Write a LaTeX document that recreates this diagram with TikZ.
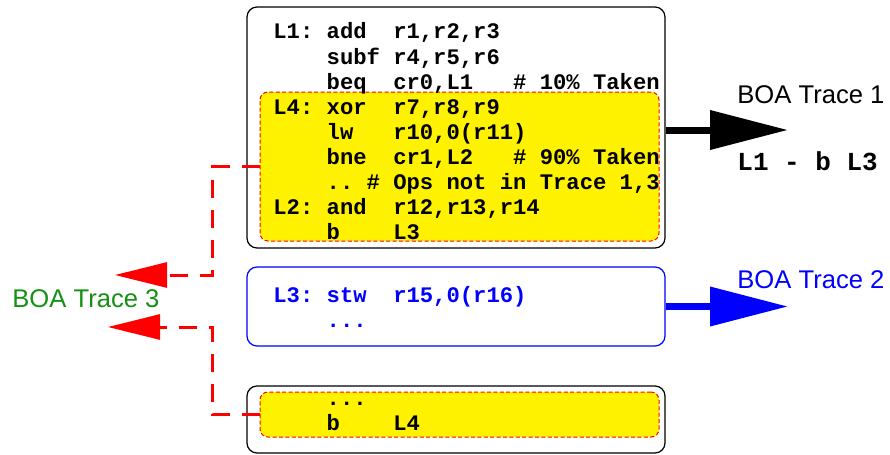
\documentclass[tikz,border=0pt]{standalone}
\usepackage{fontspec}
\usepackage{xcolor}
\usepackage{tikz}
\usetikzlibrary{arrows.meta}
\newfontfamily\codefont{Liberation Mono}
\newfontfamily\boafont{Liberation Sans}
\newcommand\codelines[1]{\begin{tabular}[t]{@{}l@{}}#1\end{tabular}}
\definecolor{trace three}{RGB}{20,145,20}
\colorlet{trace hot}{yellow}
\colorlet{trace edge}{red}
\tikzset{block/.style={draw, line width=0.6pt, rounded corners=5pt, fill=white,
        inner sep=0pt, minimum width=209pt},
    hot/.style={fill=trace hot, draw=trace edge, line width=0.5pt,
        dash pattern=on 2pt off 1.2pt, rounded corners=4pt, inner sep=0pt,
        minimum width=199.5pt},
    code line/.style={anchor=base west, inner sep=0pt,
        font=\codefont\bfseries\fontsize{11.1}{12.55}\selectfont},
    boa name/.style={anchor=base west, inner sep=0pt,
        font=\boafont\fontsize{12.8}{15}\selectfont},
    exit/.style={line width=3.5pt, -{Triangle[length=39pt,width=19pt]}},
    side exit/.style={draw=trace edge, line width=1.5pt, dash pattern=on 9pt off 6pt,
        -{Triangle[length=26pt,width=12.5pt]}}}

\begin{document}
\begin{tikzpicture}[x=0.5pt, y=-0.5pt]
    \useasboundingbox (0,0) rectangle (890,455);
    % blocks
    \node[block, minimum height=120.5pt] (bb1) at (456,127.5) {};
    \node[hot, minimum height=74.5pt] (hot1) at (459.5,166.5) {};
    \node[block, draw=blue, minimum height=39.5pt] (bb2) at (456,306.5) {};
    \node[block, minimum height=33.5pt] (bb3) at (456,419.5) {};
    \node[hot, minimum height=22.5pt] (hot3) at (459.5,414.5) {};
    % code
    \node[code line] (code1) at (273,39) {\codelines{%
        L1:~add~~r1,r2,r3\\
        ~~~~subf~r4,r5,r6\\
        ~~~~beq~~cr0,L1~~~\#~10\%~Taken\\
        L4:~xor~~r7,r8,r9\\
        ~~~~lw~~~r10,0(r11)\\
        ~~~~bne~~cr1,L2~~~\#~90\%~Taken\\
        ~~~~..~\#~Ops~not~in~Trace~1,3\\
        L2:~and~~r12,r13,r14\\
        ~~~~b~~~~L3}};
    \node[code line, text=blue] (code2) at (273,302) {\codelines{%
        L3:~stw~~r15,0(r16)\\
        ~~~~...}};
    \node[code line] (code3) at (273,405) {\codelines{%
        ~~~~...\\
        ~~~~b~~~~L4}};
    % traces
    \coordinate (tip1) at (788,130);
    \coordinate (tip2) at (788,306.5);
    \coordinate (tip3a) at (115,275);
    \coordinate (tip3b) at (108,327);
    \draw[exit] (bb1.east |- tip1) -- (tip1);
    \draw[exit, blue] (bb2.east) -- (tip2);
    \draw[side exit] (hot1.west) -- ++(-47,0) |- (tip3a);
    \draw[side exit] (hot3.west) -- ++(-47,0) |- (tip3b);
    \node[boa name] (boa1) at (737,103) {BOA Trace 1};
    \node[code line, font=\codefont\bfseries\fontsize{13}{15}\selectfont] (path1) at (737,170) {L1 - b L3};
    \node[boa name, text=blue] (boa2) at (737,288) {BOA Trace 2};
    \node[boa name, text=trace three] (boa3) at (12,307) {BOA Trace 3};
\end{tikzpicture}
\end{document}
